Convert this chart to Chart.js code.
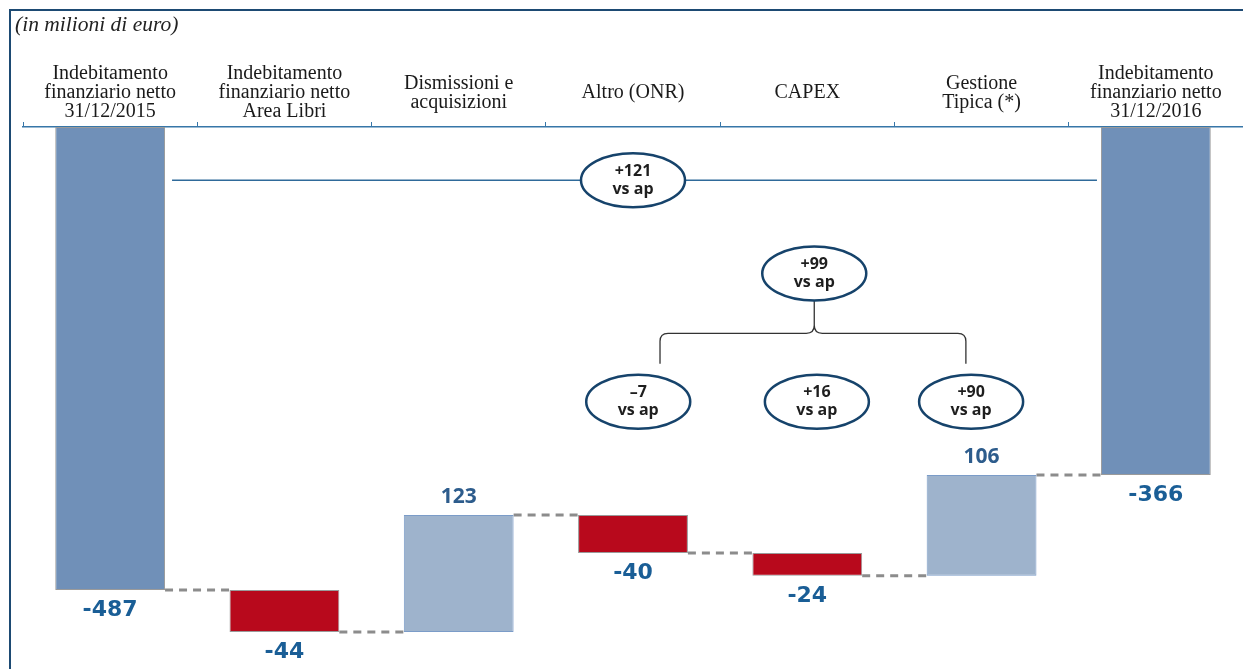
<!DOCTYPE html>
<html>
<head>
<meta charset="utf-8">
<script src="https://cdn.jsdelivr.net/npm/chart.js@4.4.1/dist/chart.umd.min.js"></script>
<style>
    html, body { margin: 0; padding: 0; background: #fff; overflow: hidden; }
</style>
</head>
<body>
<canvas id="ponte" width="1243" height="669"></canvas>
<script>
// Dati (milioni di euro)
const categories = [
    ["Indebitamento", "finanziario netto", "31/12/2015"],
    ["Indebitamento", "finanziario netto", "Area Libri"],
    ["Dismissioni e", "acquisizioni"],
    "Altro (ONR)",
    "CAPEX",
    ["Gestione", "Tipica (*)"],
    ["Indebitamento", "finanziario netto", "31/12/2016"]
];
const values = [-487, -44, 123, -40, -24, 106, -366];
const isTotal = [true, false, false, false, false, false, true];
const valueLabels = ["-487", "-44", "123", "-40", "-24", "106", "-366"];
const vsApLabels = ["+121", "+99", "\u20137", "+16", "+90"];

// Range flottanti per il waterfall
let run = 0;
const ranges = values.map((v, i) => {
    if (isTotal[i]) { run = v; return [0, v]; }
    const start = run;
    run += v;
    return [start, run];
});

const COL_TOTAL = '#7090b8', COL_UP = '#9eb3cc', COL_DOWN = '#b8091c';
const NAVY = '#16436b', AXIS = '#3776a8';

// posizioni annotazioni: x = indice categoria, y = valore
const ovals = [
    { x: 3.0, y: -56 },
    { x: 4.04, y: -154 },
    { x: 3.03, y: -289 },
    { x: 4.055, y: -289 },
    { x: 4.94, y: -289 }
];

function drawOval(ctx, cx, cy, text) {
    ctx.save();
    ctx.beginPath();
    ctx.ellipse(cx, cy, 52, 27, 0, 0, Math.PI * 2);
    ctx.fillStyle = '#fff';
    ctx.fill();
    ctx.lineWidth = 2.5;
    ctx.strokeStyle = NAVY;
    ctx.stroke();
    ctx.fillStyle = '#1e1e1e';
    ctx.font = 'bold 16px "Open Sans"';
    ctx.textAlign = 'center';
    ctx.textBaseline = 'middle';
    ctx.fillText(text, cx, cy - 9);
    ctx.fillText('vs ap', cx, cy + 9);
    ctx.restore();
}

const ponte = {
    id: 'ponte',
    beforeDatasetsDraw(chart) {
        const { ctx, scales: { y } } = chart;
        const bars = chart.getDatasetMeta(0).data;
        ctx.save();
        ctx.strokeStyle = '#8c8c8c';
        ctx.lineWidth = 3;
        ctx.setLineDash([8, 6]);
        for (let i = 0; i < bars.length - 1; i++) {
            const yy = y.getPixelForValue(ranges[i][1]);
            ctx.beginPath();
            ctx.moveTo(bars[i].x + bars[i].width / 2, yy);
            ctx.lineTo(bars[i + 1].x - bars[i + 1].width / 2, yy);
            ctx.stroke();
        }
        ctx.restore();
    },
    afterDatasetsDraw(chart) {
        const { ctx, scales: { x, y } } = chart;
        const bars = chart.getDatasetMeta(0).data;

        // etichette valori
        ctx.save();
        ctx.textAlign = 'center';
        ctx.textBaseline = 'middle';
        bars.forEach((b, i) => {
            if (values[i] > 0) {
                ctx.font = 'bold 21px "Open Sans"';
                ctx.fillStyle = '#2d5c8c';
                ctx.fillText(valueLabels[i], b.x, y.getPixelForValue(Math.max(...ranges[i])) - 18);
            } else {
                ctx.font = 'bold 22px "DejaVu Sans"';
                ctx.fillStyle = '#1a5e96';
                ctx.fillText(valueLabels[i], b.x, y.getPixelForValue(Math.min(...ranges[i])) + 20);
            }
        });
        ctx.restore();

        // linea +121
        const ly = y.getPixelForValue(ovals[0].y);
        ctx.save();
        ctx.strokeStyle = '#2f6a9a';
        ctx.lineWidth = 1.5;
        ctx.beginPath();
        ctx.moveTo(bars[0].x + bars[0].width / 2 + 7, ly);
        ctx.lineTo(bars[6].x - bars[6].width / 2 - 4, ly);
        ctx.stroke();
        ctx.restore();

        // graffa
        const cx = x.getPixelForValue(ovals[1].x);
        const top = y.getPixelForValue(ovals[1].y) + 27;
        const hb = y.getPixelForValue(-217);
        const yb = y.getPixelForValue(-249);
        const xl = x.getPixelForValue(3.155);
        const xr = x.getPixelForValue(4.91);
        ctx.save();
        ctx.strokeStyle = '#333';
        ctx.lineWidth = 1.3;
        ctx.beginPath();
        ctx.moveTo(cx, top);
        ctx.lineTo(cx, hb - 8);
        ctx.quadraticCurveTo(cx, hb, cx - 8, hb);
        ctx.lineTo(xl + 8, hb);
        ctx.quadraticCurveTo(xl, hb, xl, hb + 8);
        ctx.lineTo(xl, yb);
        ctx.moveTo(cx, hb - 8);
        ctx.quadraticCurveTo(cx, hb, cx + 8, hb);
        ctx.lineTo(xr - 8, hb);
        ctx.quadraticCurveTo(xr, hb, xr, hb + 8);
        ctx.lineTo(xr, yb);
        ctx.stroke();
        ctx.restore();

        ovals.forEach((o, i) => drawOval(ctx, x.getPixelForValue(o.x), y.getPixelForValue(o.y), vsApLabels[i]));
    },
    afterDraw(chart) {
        const { ctx } = chart;
        ctx.save();
        ctx.strokeStyle = '#1d4a73';
        ctx.lineWidth = 2;
        ctx.beginPath();
        ctx.moveTo(10, 669);
        ctx.lineTo(10, 10);
        ctx.lineTo(1243, 10);
        ctx.stroke();
        ctx.fillStyle = '#222';
        ctx.font = 'italic 21.5px "Liberation Serif"';
        ctx.textBaseline = 'middle';
        ctx.fillText('(in milioni di euro)', 15, 25);
        ctx.restore();
    }
};

new Chart(document.getElementById('ponte'), {
    type: 'bar',
    data: {
        labels: categories,
        datasets: [{
            data: ranges,
            backgroundColor: values.map((v, i) => isTotal[i] ? COL_TOTAL : (v > 0 ? COL_UP : COL_DOWN)),
            borderColor: values.map((v, i) => (!isTotal[i] && v > 0) ? '#7b9cc8' : '#9a9a9a'),
            borderWidth: 1,
            borderSkipped: false,
            barPercentage: 0.63,
            categoryPercentage: 1
        }]
    },
    options: {
        responsive: false,
        animation: false,
        devicePixelRatio: 1,
        layout: { padding: { left: 23, right: 0, top: 0, bottom: 0 } },
        plugins: { legend: { display: false }, tooltip: { enabled: false } },
        scales: {
            x: {
                position: 'top',
                afterFit: s => { s.height = 127; },
                grid: { drawOnChartArea: false, tickLength: 5, color: AXIS, offset: true },
                border: { display: true, color: AXIS, width: 1.5 },
                ticks: {
                    color: '#1a1a1a',
                    padding: 10,
                    autoSkip: false,
                    maxRotation: 0,
                    crossAlign: 'center',
                    font: { family: '"Liberation Serif"', size: 20, lineHeight: 0.95 }
                }
            },
            y: { display: false, min: -570, max: 0 }
        }
    },
    plugins: [ponte]
});
</script>
</body>
</html>
